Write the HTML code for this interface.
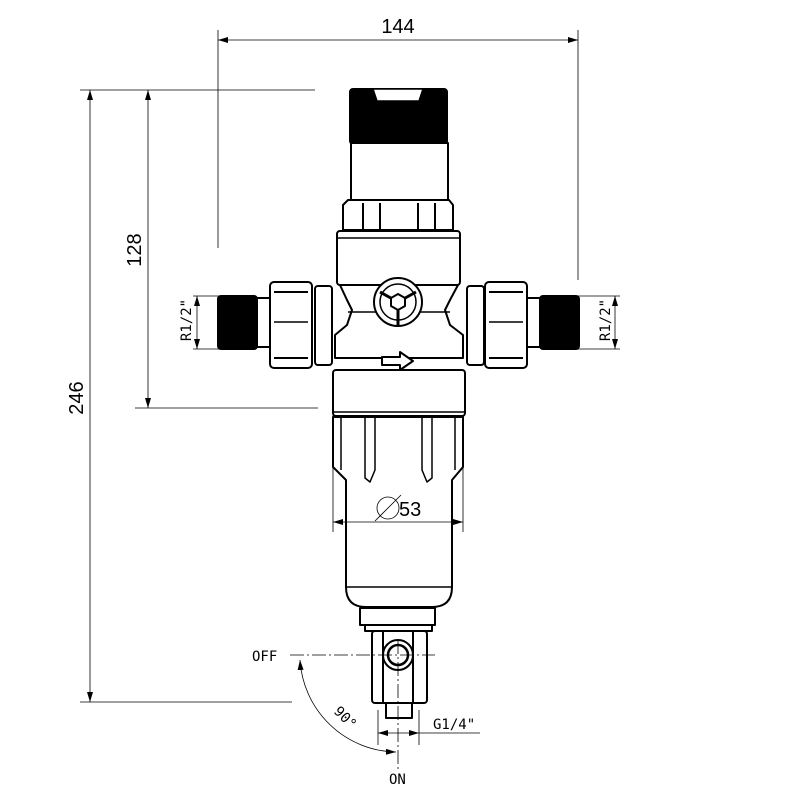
<!DOCTYPE html>
<html><head><style>body{margin:0;background:#fff}svg{display:block}</style></head><body>
<svg width="800" height="800" viewBox="0 0 800 800" xmlns="http://www.w3.org/2000/svg" font-family="Liberation Sans, sans-serif">
<defs>
<marker id="a" viewBox="0 0 10 6" refX="10" refY="3" markerWidth="10" markerHeight="6" orient="auto-start-reverse" markerUnits="userSpaceOnUse"><path d="M0,0 L10,3 L0,6 Z" fill="#000"/></marker>
</defs>
<!-- body -->
<g stroke="#000" stroke-width="2" fill="#fff" stroke-linejoin="round">
<rect x="350" y="89" width="97" height="55" rx="3" fill="#000"/>
<path d="M373,89 L423,89 L419,101 L377,101 Z" fill="#fff" stroke-width="1.5"/>
<rect x="351" y="143" width="97" height="57"/>
<path d="M348,200 L449,200 L453,205 L453,230 L343,230 L343,205 Z"/>
<line x1="363" y1="203" x2="363" y2="229"/><line x1="380" y1="203" x2="380" y2="229"/>
<line x1="418" y1="203" x2="418" y2="229"/><line x1="435" y1="203" x2="435" y2="229"/>
<rect x="337" y="231" width="123" height="54" rx="3"/>
<line x1="338" y1="238" x2="459" y2="238" stroke-width="1.5"/>
<path d="M340,285 L458,285 L450,300 L445,310 L450,325 L463,335 L463,358 L335,358 L335,335 L347,325 L352,310 L347,300 Z"/>
<line x1="348" y1="312" x2="450" y2="312" stroke-width="1.5"/>
<rect x="218" y="296" width="39" height="53" rx="3" fill="#000"/>
<rect x="257" y="298" width="13" height="49"/>
<rect x="270" y="282" width="42" height="86" rx="4"/>
<line x1="274" y1="292" x2="308" y2="292"/><line x1="274" y1="358" x2="308" y2="358"/>
<line x1="274" y1="322" x2="308" y2="322" stroke-width="1.5"/>
<rect x="315" y="286" width="17" height="79" rx="3"/>
<rect x="540" y="296" width="39" height="53" rx="3" fill="#000"/>
<rect x="527" y="298" width="13" height="49"/>
<rect x="485" y="282" width="42" height="86" rx="4"/>
<line x1="489" y1="292" x2="523" y2="292"/><line x1="489" y1="358" x2="523" y2="358"/>
<line x1="489" y1="322" x2="523" y2="322" stroke-width="1.5"/>
<rect x="467" y="286" width="17" height="79" rx="3"/>
<circle cx="398" cy="302" r="24"/>
<circle cx="398" cy="302" r="18" stroke-width="1.5"/>
<path d="M398,302 L398,325 M398,302 L380,292 M398,302 L416,292" stroke-width="3"/>
<polygon points="398,294 405,298 405,306 398,310 391,306 391,298"/>
<path d="M382,357 L400,357 L400,352 L413,361 L400,370 L400,365 L382,365 Z" stroke-width="2"/>
<rect x="333" y="370" width="132" height="46" rx="3"/>
<line x1="334" y1="412" x2="464" y2="412" stroke-width="1.5"/>
<path d="M333,417 L463,417 L463,467 L452,480 L452,587 Q452,607 432,607 L366,607 Q346,607 346,587 L346,480 L333,467 Z"/>
<line x1="341" y1="418" x2="341" y2="470" stroke-width="1.5"/><line x1="455" y1="418" x2="455" y2="470" stroke-width="1.5"/>
<path d="M365,418 L365,478 L370,482 L375,470 L375,418" stroke-width="1.5"/>
<path d="M422,418 L422,470 L427,482 L432,478 L432,418" stroke-width="1.5"/>
<line x1="346" y1="587" x2="452" y2="587" stroke-width="1.5"/>
<rect x="360" y="608" width="75" height="17"/>
<rect x="365" y="625" width="67" height="6"/>
<rect x="372" y="631" width="55" height="72" rx="3"/>
<rect x="383" y="631" width="30" height="72"/>
<rect x="386" y="703" width="26" height="15"/>
<circle cx="398" cy="655" r="15"/>
<circle cx="398" cy="655" r="10" stroke-width="2.5"/>
</g>
<g stroke="#000" stroke-width="0.8" fill="none">
<line x1="218" y1="30" x2="218" y2="248"/><line x1="578" y1="30" x2="578" y2="280"/>
<line x1="218" y1="40" x2="578" y2="40" marker-start="url(#a)" marker-end="url(#a)"/>
<line x1="80" y1="90" x2="315" y2="90"/><line x1="80" y1="702" x2="292" y2="702"/>
<line x1="90" y1="90" x2="90" y2="702" marker-start="url(#a)" marker-end="url(#a)"/>
<line x1="135" y1="408" x2="318" y2="408"/>
<line x1="148" y1="90" x2="148" y2="408" marker-start="url(#a)" marker-end="url(#a)"/>
<line x1="193" y1="296" x2="255" y2="296"/><line x1="193" y1="349" x2="255" y2="349"/>
<line x1="197" y1="296" x2="197" y2="349" marker-start="url(#a)" marker-end="url(#a)"/>
<line x1="545" y1="296" x2="620" y2="296"/><line x1="545" y1="349" x2="620" y2="349"/>
<line x1="615" y1="296" x2="615" y2="349" marker-start="url(#a)" marker-end="url(#a)"/>
<line x1="333" y1="415" x2="333" y2="532"/><line x1="463" y1="415" x2="463" y2="532"/>
<line x1="333" y1="522" x2="463" y2="522" marker-start="url(#a)" marker-end="url(#a)"/>
<circle cx="388" cy="508" r="11"/><line x1="375" y1="521" x2="401" y2="495"/>
<line x1="378" y1="710" x2="378" y2="745"/><line x1="419" y1="710" x2="419" y2="745"/>
<line x1="378" y1="733" x2="419" y2="733" marker-start="url(#a)" marker-end="url(#a)"/>
<line x1="419" y1="733" x2="480" y2="733"/>
<line x1="290" y1="655" x2="435" y2="655" stroke-dasharray="14,3,2,3"/>
<line x1="398" y1="640" x2="398" y2="770" stroke-dasharray="14,3,2,3"/>
<path d="M300,660 A98,98 0 0 0 396,752" marker-start="url(#a)" marker-end="url(#a)"/>
</g>
<g fill="#000" font-size="20">
<text x="398" y="33" text-anchor="middle">144</text>
<text transform="translate(83,398) rotate(-90)" text-anchor="middle">246</text>
<text transform="translate(141,250) rotate(-90)" text-anchor="middle">128</text>
<text x="399" y="516" font-size="20">53</text>
</g>
<g fill="#000" font-family="DejaVu Sans Mono, Liberation Mono, monospace" font-size="14">
<text transform="translate(191,320) rotate(-90)" text-anchor="middle">R1/2"</text>
<text transform="translate(610,320) rotate(-90)" text-anchor="middle">R1/2"</text>
<text x="252" y="661">OFF</text>
<text x="389" y="784">ON</text>
<text x="433" y="729">G1/4"</text>
<text transform="translate(333,712) rotate(45)">90°</text>
</g>
</svg>
</body></html>
